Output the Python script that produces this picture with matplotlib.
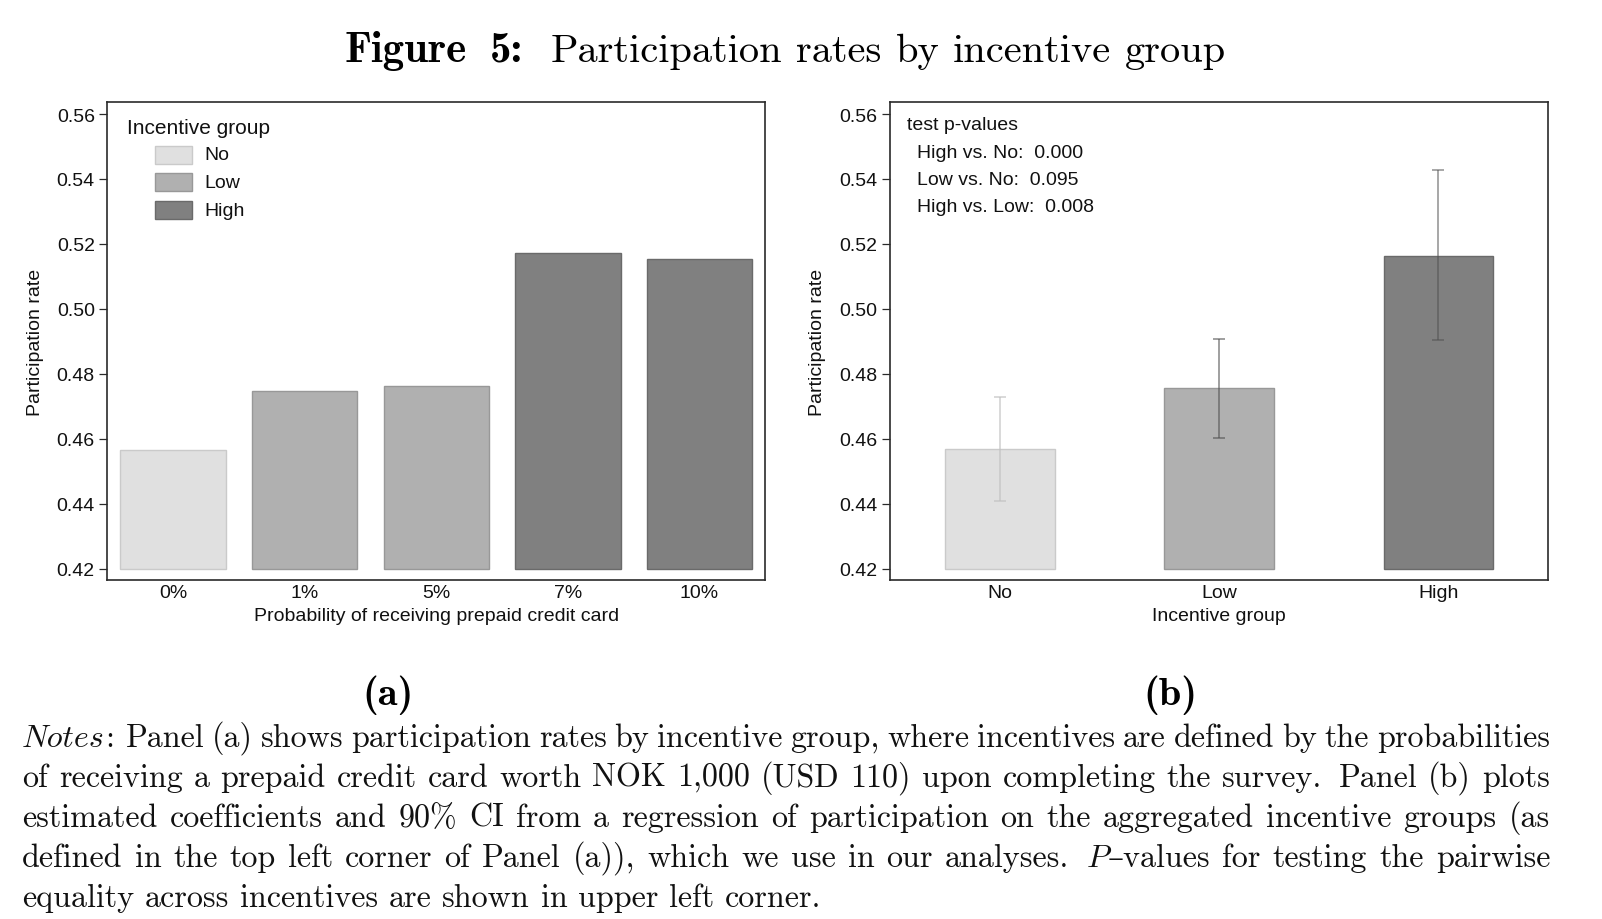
import matplotlib
matplotlib.use("Agg")
import matplotlib.pyplot as plt
from matplotlib.patches import Rectangle
import numpy as np

# ---------------- data ----------------
prob_labels = ["0%", "1%", "5%", "7%", "10%"]
prob_rates = [0.4566, 0.4747, 0.4763, 0.5172, 0.5153]
prob_group = ["No", "Low", "Low", "High", "High"]

groups = ["No", "Low", "High"]
group_rates = [0.4567, 0.4755, 0.5163]
ci_low = [0.4407, 0.4603, 0.4905]
ci_high = [0.4728, 0.4906, 0.5427]

pvalue_labels = ["High vs. No:", "Low vs. No:", "High vs. Low:"]
pvalues = ["0.000", "0.095", "0.008"]

yticks = [0.42, 0.44, 0.46, 0.48, 0.50, 0.52, 0.54, 0.56]
base = 0.42

title_bold = "Figure 5:"
title_text = "Participation rates by incentive group"
notes_lines = [
    "*Notes*: Panel (a) shows participation rates by incentive group, where incentives are defined by the probabilities",
    "of receiving a prepaid credit card worth NOK 1,000 (USD 110) upon completing the survey. Panel (b) plots",
    "estimated coefficients and 90% CI from a regression of participation on the aggregated incentive groups (as",
    "defined in the top left corner of Panel (a)), which we use in our analyses. *P*–values for testing the pairwise",
    "equality across incentives are shown in upper left corner.",
]

# ---------------- styles ----------------
fill = {"No": "#e0e0e0", "Low": "#b0b0b0", "High": "#808080"}
edge = {"No": "#cacaca", "Low": "#989898", "High": "#6a6a6a"}
err_col = {"No": ("#c0c0c0", 0.6), "Low": ("#505050", 0.55), "High": ("#505050", 0.5)}
SANS = ["Liberation Sans", "DejaVu Sans"]
SPINE = "#2a2a2a"

W, H = 1602, 920
fig = plt.figure(figsize=(W / 100, H / 100), dpi=100)
fig.patch.set_facecolor("white")
renderer = fig.canvas.get_renderer()


def fx(px):
    return px / W


def fy(py):
    return 1 - py / H


AX_TOP, AX_BOT, AX_W = 102.7, 581.3, 658.0
L1, L2 = 107.3, 890.0
ylim = (0.4164, 0.5638)


def make_axes(left):
    ax = fig.add_axes([fx(left), fy(AX_BOT), AX_W / W, (AX_BOT - AX_TOP) / H])
    for s in ax.spines.values():
        s.set_linewidth(1.2)
        s.set_color(SPINE)
    ax.set_ylim(*ylim)
    ax.set_yticks(yticks)
    ax.set_yticklabels([f"{v:.2f}" for v in yticks], fontfamily=SANS)
    ax.tick_params(axis="y", direction="out", length=5.5, width=0.9,
                   pad=3.5, labelsize=14, color=SPINE, labelcolor="#111111")
    ax.tick_params(axis="x", length=0, pad=2.5, labelsize=14, labelcolor="#111111")
    return ax


def ax_xy(ax_left, px, py):
    return (px - ax_left) / AX_W, (AX_BOT - py) / (AX_BOT - AX_TOP)


# ---------------- panel (a) ----------------
ax1 = make_axes(L1)
x1 = np.arange(len(prob_labels))
ax1.bar(x1, [r - base for r in prob_rates], bottom=base, width=0.8,
        color=[fill[g] for g in prob_group],
        edgecolor=[edge[g] for g in prob_group], linewidth=1.0, zorder=2)
ax1.set_xlim(-0.5, len(prob_labels) - 0.5)
ax1.set_xticks(x1)
ax1.set_xticklabels(prob_labels, fontfamily=SANS)
ax1.set_xlabel("Probability of receiving prepaid credit card", fontsize=14,
               fontfamily=SANS, color="#111111")
ax1.set_ylabel("Participation rate", fontsize=14, fontfamily=SANS, color="#111111")

# legend (drawn manually to match Stata layout)
tx, ty = ax_xy(L1, 127, 128.3)
ax1.text(tx, ty, "Incentive group", transform=ax1.transAxes, fontsize=15,
         fontfamily=SANS, ha="left", va="center", color="#111111")
leg_centres = [156.0, 183.0, 211.0]
for g, cy in zip(groups, leg_centres):
    x0, y0 = ax_xy(L1, 155, cy + 9.3)
    x1r, y1r = ax_xy(L1, 192, cy - 9.3)
    ax1.add_patch(Rectangle((x0, y0), x1r - x0, y1r - y0, transform=ax1.transAxes,
                            facecolor=fill[g], edgecolor=edge[g], linewidth=1.0,
                            clip_on=False, zorder=3))
    lx, ly = ax_xy(L1, 204, cy)
    ax1.text(lx, ly, g, transform=ax1.transAxes, fontsize=14, fontfamily=SANS,
             ha="left", va="center", color="#111111")

# ---------------- panel (b) ----------------
ax2 = make_axes(L2)
x2 = np.arange(len(groups))
ax2.bar(x2, [r - base for r in group_rates], bottom=base, width=0.5,
        color=[fill[g] for g in groups],
        edgecolor=[edge[g] for g in groups], linewidth=1.0, zorder=2)
for xi, g, r, lo, hi in zip(x2, groups, group_rates, ci_low, ci_high):
    c, a = err_col[g]
    ax2.errorbar([xi], [r], yerr=[[r - lo], [hi - r]], fmt="none", ecolor=c,
                 alpha=a, elinewidth=1.4, capsize=4, capthick=1.4, zorder=3)
ax2.set_xlim(-0.5, len(groups) - 0.5)
ax2.set_xticks(x2)
ax2.set_xticklabels(groups, fontfamily=SANS)
ax2.set_xlabel("Incentive group", fontsize=14, fontfamily=SANS, color="#111111")
ax2.set_ylabel("Participation rate", fontsize=14, fontfamily=SANS, color="#111111")

tx, ty = ax_xy(L2, 907, 126)
ax2.text(tx, ty, "test p-values", transform=ax2.transAxes, fontsize=14,
         fontfamily=SANS, ha="left", va="center", color="#111111")
for lab, pv, cy in zip(pvalue_labels, pvalues, [153.0, 180.5, 208.0]):
    lx, ly = ax_xy(L2, 917, cy)
    ax2.text(lx, ly, f"{lab}  {pv}", transform=ax2.transAxes, fontsize=14,
             fontfamily=SANS, ha="left", va="center", color="#111111")

# axis label positions
for ax, ylab_x in ((ax1, 36.0 - L1), (ax2, 817.0 - L2)):
    ax.xaxis.set_label_coords(0.5, (AX_BOT - 617) / (AX_BOT - AX_TOP))
    ax.xaxis.label.set_va("center")
    ax.yaxis.set_label_coords(ylab_x / AX_W, 0.5)
    ax.yaxis.label.set_va("center")

# ---------------- LaTeX-like text ----------------
RM = ["cmr10", "DejaVu Serif"]
BF = ["cmb10", "DejaVu Serif"]
IT = ["cmmi10", "DejaVu Serif"]


def pieces_of(word, roman=RM):
    parts = word.split("*")
    out = []
    for i, p in enumerate(parts):
        if p:
            out.append((p, IT if i % 2 == 1 else roman))
    return out


def piece_width(text, fam, size):
    t = fig.text(0, 0, text, fontfamily=fam, fontsize=size)
    w = t.get_window_extent(renderer).width
    t.remove()
    return w


def word_width(word, size, roman=RM):
    return sum(piece_width(p, f, size) for p, f in pieces_of(word, roman))


def natural_width(words, size, roman=RM):
    return (sum(word_width(w, size, roman) for w in words)
            + 0.333 * size * 100 / 72 * (len(words) - 1))


def draw_word(x, base_y, word, size, roman=RM, color="#111111"):
    for p, f in pieces_of(word, roman):
        t = fig.text(fx(x), fy(base_y), p, fontfamily=f, fontsize=size,
                     ha="left", va="baseline", color=color)
        x += t.get_window_extent(renderer).width
    return x


def draw_line(words, x_left, base_y, size, justify_to=None, roman=RM, color="#111111"):
    widths = [word_width(w, size, roman) for w in words]
    space = 0.333 * size * 100 / 72
    weights = [1.5 if (w.endswith(".") or w.endswith(":")) else 1.0 for w in words[:-1]]
    if justify_to is not None and len(words) > 1:
        g = (justify_to - x_left - sum(widths)) / sum(weights)
    else:
        g = space
    x = x_left
    for i, w in enumerate(words):
        draw_word(x, base_y, w, size, roman, color)
        x += widths[i]
        if i < len(weights):
            x += weights[i] * g


s0 = 20.0
# title: regular part fitted to its measured extent; bold part spans to the same right edge
tw = title_text.split()
tb = title_bold.split()
ts = s0 * (1226 - 551) / natural_width(tw, s0)
bs_fit = s0 * (523 - 344) / natural_width(tb, s0, BF)
bs = 0.5 * (ts + bs_fit)
draw_line(tb, 344, 61.7, bs, roman=BF, color="black", justify_to=523)
draw_line(tw, 551, 61.7, ts, justify_to=1226, color="black")

# panel labels
ps = s0 * 51 / word_width("(a)", s0, BF)
for lab, cx in (("(a)", 387.5), ("(b)", 1170.0)):
    w = word_width(lab, ps, BF)
    draw_word(cx - w / 2, 705, lab, ps, roman=BF, color="black")

# notes paragraph (justified); size fitted to the last (unjustified) line
NS = s0 * (821 - 22) / natural_width(notes_lines[-1].split(), s0)
for i, line in enumerate(notes_lines):
    by = 747 + 40 * i
    words = line.split()
    last = i == len(notes_lines) - 1
    draw_line(words, 22, by, NS, justify_to=None if last else 1550)

fig.savefig("out.png", dpi=100, facecolor="white")
